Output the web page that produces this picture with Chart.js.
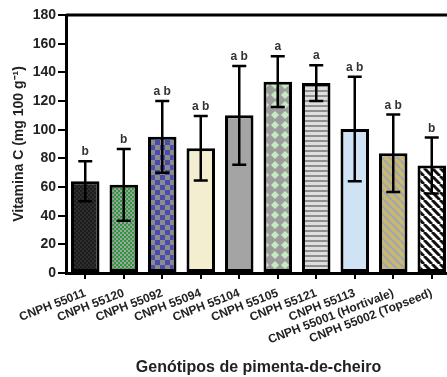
<!DOCTYPE html>
<html><head><meta charset="utf-8">
<script src="https://cdn.jsdelivr.net/npm/chart.js@4.4.1/dist/chart.umd.min.js"></script>
<style>html,body{margin:0;padding:0;overflow:hidden;background:#fff;width:447px;height:377px}canvas{display:block}</style>
</head><body>
<canvas id="c" width="455" height="377" style="width:455px;height:377px"></canvas>
<script>
const categories = ["CNPH 55011","CNPH 55120","CNPH 55092","CNPH 55094","CNPH 55104","CNPH 55105","CNPH 55121","CNPH 55113","CNPH 55001 (Hortivale)","CNPH 55002 (Topseed)"];
const means = [64, 61.5, 95, 87, 110, 133.5, 132.5, 100.5, 83.5, 75];
const sds = [14, 25, 25, 22.5, 34.5, 17.7, 12.5, 36.5, 27, 19.5];
const letters = ["b","b","ab","ab","ab","a","a","ab","ab","b"];
const yTicks = [0,20,40,60,80,100,120,140,160,180];

function pat(w,h,draw){const c=document.createElement('canvas');c.width=w;c.height=h;const x=c.getContext('2d');draw(x,w,h);return document.getElementById('c').getContext('2d').createPattern(c,'repeat');}
const fills = [
  pat(4,4,(x)=>{x.fillStyle='#1c1c1c';x.fillRect(0,0,4,4);x.fillStyle='#2e2e2e';x.fillRect(0,0,2,2);x.fillRect(2,2,2,2);}),
  pat(4,4,(x)=>{x.fillStyle='#a2a2a2';x.fillRect(0,0,4,4);x.fillStyle='#2a9a3c';x.fillRect(0,0,2,2);x.fillRect(2,2,2,2);x.fillStyle='#6aa070';x.fillRect(2,0,1,1);}),
  pat(10,10,(x)=>{x.fillStyle='#4a4cab';x.fillRect(0,0,10,10);x.fillStyle='#8c8c8c';x.fillRect(0,0,5,5);x.fillRect(5,5,5,5);}),
  '#f3eecf',
  '#a4a4a4',
  pat(10,10,(x)=>{x.fillStyle='#9c9c9c';x.fillRect(0,0,10,10);x.fillStyle='#c4ecc0';x.beginPath();x.moveTo(5,1);x.lineTo(9,5);x.lineTo(5,9);x.lineTo(1,5);x.closePath();x.fill();}),
  pat(4,5,(x)=>{x.fillStyle='#dedede';x.fillRect(0,0,4,5);x.fillStyle='#8e8e8e';x.fillRect(0,0,4,2);}),
  '#cfe3f4',
  pat(8,8,(x)=>{x.fillStyle='#c9b96e';x.fillRect(0,0,8,8);x.strokeStyle='#a2a5b6';x.lineWidth=2.2;x.beginPath();for(let k=-8;k<=16;k+=8){x.moveTo(k,0);x.lineTo(k+8,8);}x.stroke();}),
  pat(8,8,(x)=>{x.fillStyle='#ffffff';x.fillRect(0,0,8,8);x.strokeStyle='#111';x.lineWidth=3;x.beginPath();for(let k=-8;k<=16;k+=8){x.moveTo(k,0);x.lineTo(k+8,8);}x.stroke();})
];

const FONT='"Liberation Sans", Arial, sans-serif';
const errPlugin = {
  id:'err',
  afterDatasetsDraw(chart){
    const ctx=chart.ctx, xs=chart.scales.x, ys=chart.scales.y;
    ctx.save();
    ctx.strokeStyle='#000';ctx.lineWidth=2.5;ctx.lineCap='butt';
    means.forEach((m,i)=>{
      const cx=xs.getPixelForValue(i);
      const yt=ys.getPixelForValue(m+sds[i]), yb=ys.getPixelForValue(m-sds[i]);
      ctx.beginPath();
      ctx.moveTo(cx,yt);ctx.lineTo(cx,yb);
      ctx.moveTo(cx-7,yt);ctx.lineTo(cx+7,yt);
      ctx.moveTo(cx-7,yb);ctx.lineTo(cx+7,yb);
      ctx.stroke();
      ctx.fillStyle='#333';ctx.font='bold 12px '+FONT;
      ctx.textAlign='center';ctx.textBaseline='alphabetic';
      ctx.fillText(letters[i].split('').join(' '),cx,yt-6);
    });
    const yTop=ys.getPixelForValue(180);
    ctx.lineWidth=3;
    ctx.beginPath();ctx.moveTo(chart.chartArea.left,yTop);ctx.lineTo(chart.chartArea.right+10,yTop);ctx.stroke();
    ctx.restore();
  }
};

new Chart(document.getElementById('c'),{
  type:'bar',
  data:{labels:categories,datasets:[{data:means,backgroundColor:fills,borderColor:'#000',borderWidth:3,borderSkipped:false,barPercentage:0.74,categoryPercentage:1.0}]},
  options:{
    responsive:false,animation:false,
    layout:{padding:{top:15,right:4,left:0,bottom:0}},
    plugins:{legend:{display:false},tooltip:{enabled:false}},
    scales:{
      y:{min:0,max:180,
        afterFit(s){s.width=66;},
        afterBuildTicks(s){s.ticks=yTicks.map(v=>({value:v}));},
        border:{display:true,color:'#000',width:3},
        grid:{display:true,drawOnChartArea:false,color:'#000',tickLength:8,lineWidth:2},
        ticks:{color:'#222',font:{family:FONT,size:14,weight:'bold'},padding:2},
        title:{display:true,text:'Vitamina C (mg 100 g⁻¹)',color:'#222',font:{family:FONT,size:14,weight:'bold'},padding:{top:11,bottom:0}}
      },
      x:{
        afterFit(s){s.height=104;},
        border:{display:true,color:'#000',width:3},
        grid:{display:true,drawOnChartArea:false,color:'#000',tickLength:6,lineWidth:2,offset:false},
        ticks:{color:'#222',minRotation:21,maxRotation:21,autoSkip:false,padding:7,font:{family:FONT,size:12,weight:'bold'}},
        title:{display:true,text:'Genótipos de pimenta-de-cheiro',color:'#222',font:{family:FONT,size:16,weight:'bold'},padding:{top:0,bottom:0}}
      }
    }
  },
  plugins:[errPlugin]
});
</script>
</body></html>
